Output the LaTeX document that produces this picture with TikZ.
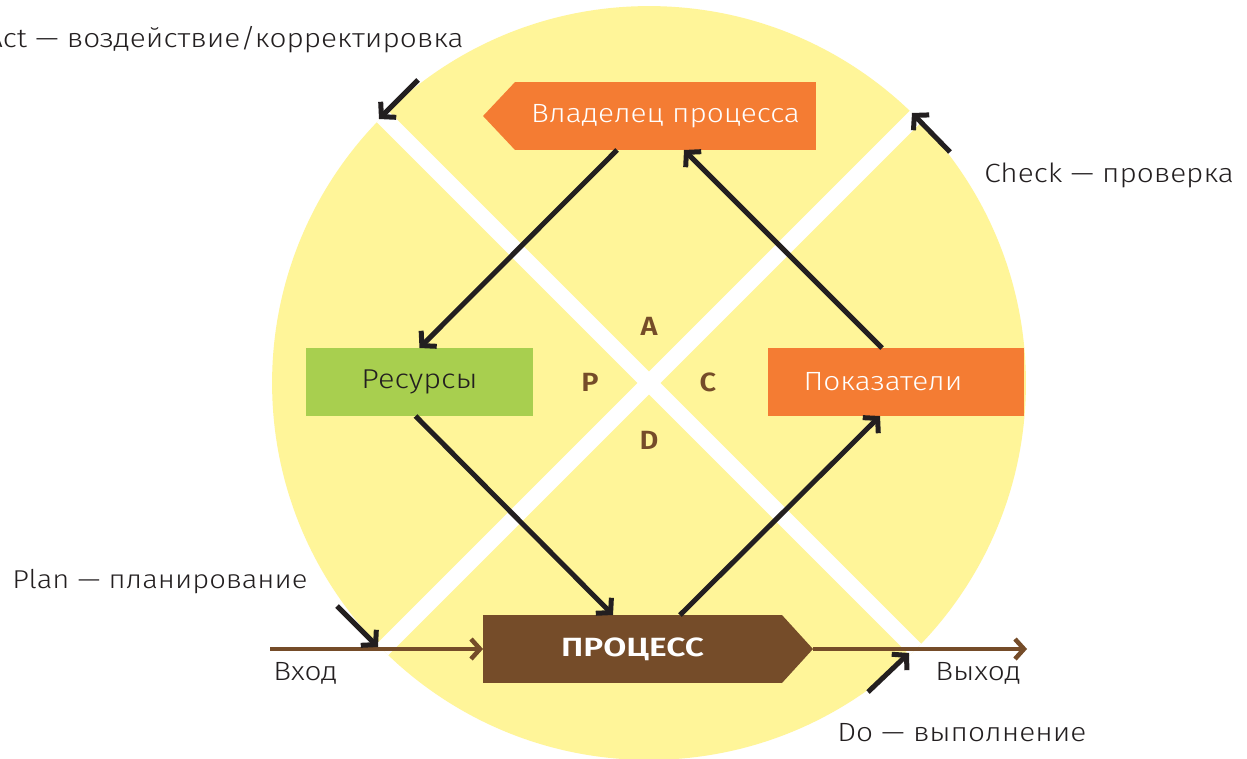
\documentclass[tikz,border=0pt]{standalone}
\usepackage{fontspec}
\setmainfont{Fira Sans Light}[FakeStretch=1.13, BoldFont={Fira Sans SemiBold}, BoldFeatures={FakeStretch=1.1}]
\newfontfamily\procfont{Fira Sans SemiBold}[FakeStretch=1.27]
\usetikzlibrary{arrows.meta,calc}
\definecolor{pdcaYellow}{HTML}{FFF599}
\definecolor{pdcaOrange}{HTML}{F47C33}
\definecolor{pdcaGreen}{HTML}{A8CF4F}
\definecolor{pdcaBrown}{HTML}{754C29}
\definecolor{pdcaInk}{HTML}{231F20}
\begin{document}
\begin{tikzpicture}[x=0.02cm,y=-0.02cm,
  lbl/.style={text=pdcaInk, inner sep=0pt, font=\fontsize{15}{18}\selectfont},
  stage/.style={text=pdcaBrown, inner sep=0pt, font=\fontsize{15}{18}\selectfont\bfseries},
  blk/.style={minimum height=1.36cm, inner sep=0pt, outer sep=0pt, font=\fontsize{15}{18}\selectfont},
  flow/.style={draw=pdcaInk, line width=0.1cm, -{Straight Barb[length=0.2cm, width=0.44cm]}},
  stream/.style={draw=pdcaBrown, line width=0.09cm, -{Straight Barb[length=0.18cm, width=0.4cm]}},
  cross/.style={draw=white, line width=0.32cm}
]
% canvas
\fill[white] (0,0) rectangle (1247,758);
\useasboundingbox (0,0) rectangle (1247,758);

% yellow disc split by two white diagonals
\fill[pdcaYellow] (649,383) circle [radius=7.54cm];
\draw[cross] (649,383) ++(-266.6,-266.6) -- ++(533.2,533.2);
\draw[cross] (649,383) ++(266.6,-266.6) -- ++(-533.2,533.2);

% quadrant letters
\node[stage] (qa) at (649,326) {A};
\node[stage] (qp) at (590,382) {P};
\node[stage] (qc) at (708,382) {C};
\node[stage] (qd) at (649,440) {D};

% blocks
\node[blk, fill=pdcaOrange, text=white, minimum width=6.02cm] (own) at (665.5,116) {Владелец процесса};
\fill[pdcaOrange] (own.north west) -- ($(own.west)+(-32,0)$) -- (own.south west) -- cycle;

\node[blk, fill=pdcaGreen, text=pdcaInk, minimum width=4.54cm, font=\fontsize{15.5}{18}\selectfont] (res) at (419.5,382) {Ресурсы};
\node[blk, fill=pdcaOrange, text=white, minimum width=5.12cm] (pok) at (896,382) {Показатели\hspace*{0.52cm}};

\node[blk, fill=pdcaBrown, text=white, minimum width=5.98cm, font=\fontsize{15}{18}\procfont] (proc) at (632.5,649) {ПРОЦЕСС};
\coordinate (procTip) at ($(proc.east)+(31,0)$);
\fill[pdcaBrown] (proc.north east) -- (procTip) -- (proc.south east) -- cycle;

% input / output
\coordinate (inStart) at (270,649);
\coordinate (outEnd) at (1027,649);
\draw[stream] (inStart) -- (proc.west);
\draw[stream] (procTip) -- (outEnd);
\node[lbl, anchor=north west] (inLbl) at (273,662) {Вход};
\node[lbl, anchor=north west] (outLbl) at (935,662) {Выход};

% cycle connectors
\draw[flow] ([xshift=-0.97cm]own.south) -- (res.north);
\draw[flow] ([xshift=-0.08cm]res.south) -- ([xshift=-0.39cm]proc.north);
\draw[flow] ([xshift=0.95cm]proc.north) -- ([xshift=-0.32cm]pok.south);
\draw[flow] ([xshift=-0.28cm]pok.north) -- ([xshift=0.37cm]own.south);

% PDCA pointers at the diagonal ends
\coordinate (actTail) at (418,80);   \coordinate (actTip) at (379,119);
\coordinate (chkTail) at (950,152);  \coordinate (chkTip) at (912,113);
\coordinate (plnTail) at (337,606);  \coordinate (plnTip) at (378,647);
\coordinate (doTail) at (868,692);   \coordinate (doTip) at (909,653);
\draw[flow] (actTail) -- (actTip);
\draw[flow] (chkTail) -- (chkTip);
\draw[flow] (plnTail) -- (plnTip);
\draw[flow] (doTail) -- (doTip);

\node[lbl, anchor=east] (actLbl) at (464,40) {Act — воздействие/корректировка};
\node[lbl, anchor=west] (chkLbl) at (984,175) {Check — проверка};
\node[lbl, anchor=west, font=\fontsize{14.7}{18}\selectfont] (plnLbl) at (12,582) {Plan — планирование};
\node[lbl, anchor=west] (doLbl) at (837,733) {Do — выполнение};
\end{tikzpicture}
\end{document}
